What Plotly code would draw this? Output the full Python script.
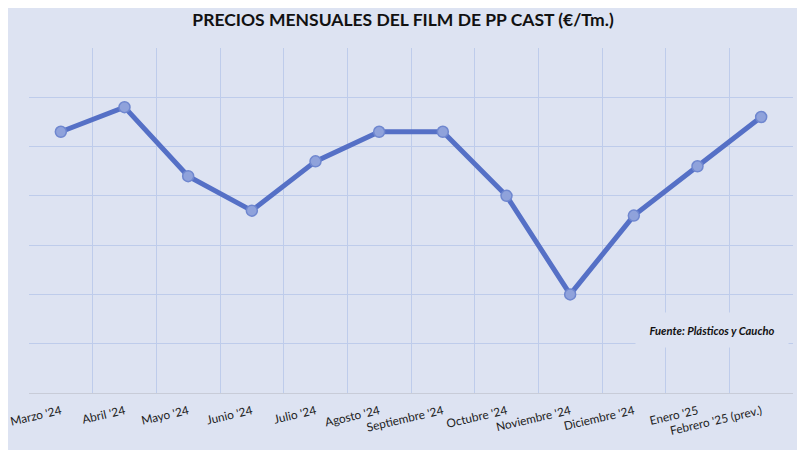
import plotly.graph_objects as go

months = ["Marzo '24", "Abril '24", "Mayo '24", "Junio '24", "Julio '24", "Agosto '24",
          "Septiembre '24", "Octubre '24", "Noviembre '24", "Diciembre '24", "Enero '25",
          "Febrero '25 (prev.)"]
prices = [1815, 1840, 1770, 1735, 1785, 1815, 1815, 1750, 1650, 1730, 1780, 1830]

BG = "#DDE3F2"
GRID = "#BECCEB"
LINE = "#5570C6"

# page body adds an 8px offset; margins compensate for it
OFF = 8

fig = go.Figure()
fig.add_trace(go.Scatter(
    x=months, y=prices, mode="lines+markers",
    line=dict(color=LINE, width=5),
    marker=dict(size=11, color="#8FA2DB", line=dict(color="#6F87CF", width=1.5)),
    hoverinfo="x+y", showlegend=False,
))

fig.update_layout(
    width=805, height=450,
    margin=dict(l=29 - OFF, r=12 + OFF, t=48 - OFF, b=57 + OFF, autoexpand=False),
    paper_bgcolor=BG, plot_bgcolor=BG,
    title=dict(text="<b>PRECIOS MENSUALES DEL FILM DE PP CAST (€/Tm.)</b>",
               x=(403 - OFF) / 805, xanchor="center", xref="container",
               y=1 - (20 - OFF) / 450, yanchor="middle", yref="container",
               font=dict(family="Lato", size=17.5, color="#111111")),
    font=dict(family="Lato", color="#222222"),
)
fig.update_xaxes(
    type="category", range=[-0.5, 11.5], tickson="boundaries", automargin=False,
    showgrid=True, gridcolor=GRID, gridwidth=1,
    ticks="", tickangle=-13, ticklabelstandoff=6,
    tickfont=dict(family="Lato", size=11.8, color="#222222"),
    showline=True, linecolor="#C8CCD8", linewidth=1, zeroline=False,
)
fig.update_yaxes(
    range=[1550, 1900], dtick=50, tick0=1550, automargin=False,
    showgrid=True, gridcolor=GRID, gridwidth=1,
    showticklabels=False, ticks="", zeroline=False, showline=False,
)
fig.add_annotation(
    xref="paper", yref="paper", x=0.894, y=0.183,
    xanchor="center", yanchor="middle",
    text="<b><i>Fuente: Plásticos y Caucho</i></b>", showarrow=False,
    font=dict(family="Lato", size=11.2, color="#111111"),
    bgcolor=BG, width=150, height=32,
)

fig.write_html("out.html")
